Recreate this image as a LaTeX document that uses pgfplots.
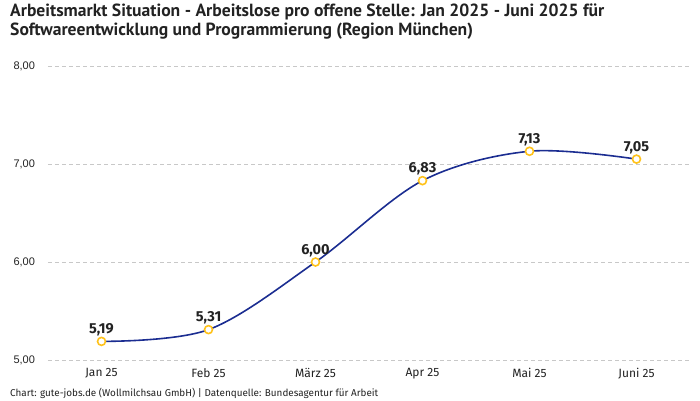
\documentclass[border=0pt]{standalone}
\usepackage{fontspec}
\setmainfont{Fira Sans}
\newfontfamily\titlefont{PT Sans}
\newfontfamily\tickfont{Liberation Sans}
\usepackage{pgfplots}
\pgfplotsset{compat=1.18}
\definecolor{linie}{HTML}{1B2D91}
\definecolor{punkt}{HTML}{FFC21A}
\definecolor{gitter}{HTML}{C8C8C8}
\definecolor{text}{HTML}{222222}

\begin{document}
\begin{tikzpicture}
\path[use as bounding box] (-48pt,-40pt) rectangle (652pt,360pt);
\begin{axis}[
    scale only axis,
    width=642pt, height=294pt,
    xmin=-0.5, xmax=5.5,
    ymin=5, ymax=8,
    xtick={0,1,2,3,4,5},
    xticklabels={Jan 25, Feb 25, März 25, Apr 25, Mai 25, Juni 25},
    ytick={5,6,7,8},
    axis line style={draw=none},
    major tick length=0pt,
    ymajorgrids=true,
    grid style={gitter, dash pattern=on 4pt off 3pt, line width=0.6pt},
    /pgf/number format/assume math mode=true,
    yticklabel={\pgfmathprintnumber[fixed, fixed zerofill, precision=2, use comma]{\tick}},
    yticklabel style={anchor=west, xshift=-38pt, font=\tickfont\fontsize{11}{12}\selectfont, text=text},
    xticklabel style={font=\fontsize{12}{14}\selectfont, text=text, yshift=-5pt},
    clip=false,
]
\addplot[
    linie, line width=1.6pt, smooth, tension=0.55,
    mark=*, mark size=4pt,
    mark options={fill=white, draw=punkt, line width=1.6pt},
    nodes near coords={\pgfmathprintnumber[fixed, fixed zerofill, precision=2, use comma, assume math mode=true]{\pgfplotspointmeta}},
    nodes near coords style={font=\bfseries\fontsize{14.5}{16}\selectfont, text=text, anchor=south, yshift=1pt},
] coordinates {
    (0,5.19) (1,5.31) (2,6.00) (3,6.83) (4,7.13) (5,7.05)
};
\end{axis}
\node[anchor=north west, align=left, inner sep=0pt, text=text, font=\titlefont\bfseries\fontsize{17.6}{18.5}\selectfont]
    at (-38pt,356pt) {Arbeitsmarkt Situation - Arbeitslose pro offene Stelle: Jan 2025 - Juni 2025 für\\Softwareentwicklung und Programmierung (Region München)};
\node[anchor=west, inner sep=0pt, text=text, font=\fontsize{9.9}{11}\selectfont]
    at (-38pt,-33pt) {Chart: gute-jobs.de (Wollmilchsau GmbH) | Datenquelle: Bundesagentur für Arbeit};
\end{tikzpicture}
\end{document}
